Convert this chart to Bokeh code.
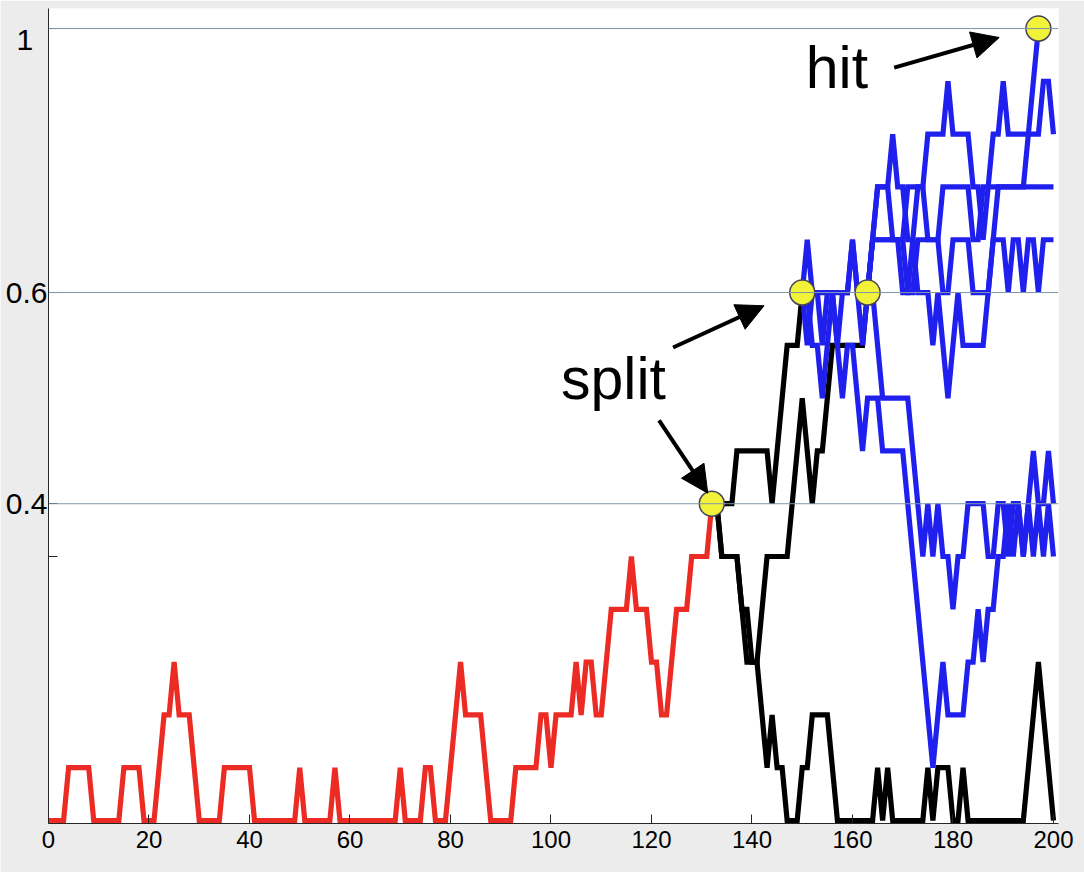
from bokeh.plotting import figure
from bokeh.models import (Range1d, FixedTicker, Label, Arrow, NormalHead, Span)
from bokeh.embed import file_html
from bokeh.resources import INLINE

# ---------------- data (levels on a 0..15 step scale) ----------------
red_start = 0
red = [0,0,0,0,1,1,1,1,1,0,0,0,0,0,0,1,1,1,1,0,
       0,0,1,2,2,3,2,2,2,1,0,0,0,0,0,1,1,1,1,1,
       1,0,0,0,0,0,0,0,0,0,1,0,0,0,0,0,0,1,0,0,
       0,0,0,0,0,0,0,0,0,0,1,0,0,0,0,1,1,0,0,0,
       1,2,3,2,2,2,2,1,0,0,0,0,0,1,1,1,1,1,2,2,
       1,2,2,2,2,3,2,3,3,2,2,3,4,4,4,4,5,4,4,4,
       3,3,2,2,3,4,4,4,5,5,5,5,6]

black_start = 132
black_a = [6,6,6,6,6,7,7,7,7,7,7,7,6,7,8,9,9,9,10]           # t132..150
black_b = [6,6,5,5,5,5,4,4,3,3,4,5,5,5,5,5,6,7,8,7,6,7,7,8,9,
           9,9,9,9,9,9,10]                                     # t132..163
black_d = [6,6,5,5,5,5,4,3,3,3,2,1,2,1,1,0,0,0,1,1,2,2,2,2,1,
           0,0,0,0,0,0,0,0,1,0,1,0,0,0,0,0,0,0,1,0,1,1,1,0,0,
           1,0,0,0,0,0,0,0,0,0,0,0,0,1,2,3,2,1,0]             # t132..200

blue2_start = 150
blue_q1 = [10,10,9,9,8,9,10,9,8,9,
           9,8,7,8,8,8,7,7,7,7,
           7,6,5,4,3,2,1,2,3,2,
           2,2,2,3,3,4,3,4,4,5,
           5,6,5,6,5,6,5,6,5,6,
           5]
blue_t13 = [10,11,10,10,10,10,10,10,10,10,
            11,10,10,10,11,11,11,11,11,11,
            11,12,12,12,12,13,13,13,13,14,
            13,13,13,13,12,12,11,12,13,13,
            14,13,13,13,13,13,13,13,14,14,
            13]
blue_t11 = [10,9,10,10,9,10,10,9,10,10,
            11,10,9,10,11,12,12,12,11,11,
            10,10,11,10,10,10,9,10,9,8,
            9,10,9,9,9,9,9,10,11,11,
            11,10,11,11,10,11,11,10,11,11,
            11]

blue3_start = 163
blue_hit = [10,11,12,12,12,13,12,12,11,11,
            12,12,11,11,11,12,12,12,12,12,
            12,11,11,12,12,12,12,12,12,12,
            12,12,13,14,15]
blue_t12 = [10,11,11,11,11,11,11,11,10,10,
            11,11,11,11,11,10,10,11,11,11,
            11,10,10,10,10,11,12,12,12,12,
            12,12,12,12,12,12,12,12]
blue_b2 = [10,10,9,8,8,8,8,8,8,7,
           6,5,6,5,6,5,5,4,5,5,
           6,6,6,6,5,5,6,6,5,6,
           6,5,6,7,6,6,7,6]

splits_t = [132, 150, 163, 197]
splits_lvl = [6, 10, 10, 15]

x_ticks = [0, 20, 40, 60, 80, 100, 120, 140, 160, 180, 200]
y_ticks = [5, 6, 10, 15]
# the "1" label sits a line below its tick; trailing spaces centre it
y_tick_labels = {5: "", 6: "0.4", 10: "0.6", 15: "\u00a0\n1\u00a0\u2009"}

# ---------------- figure ----------------
GRAY = "#ececec"
p = figure(width=1084, height=872, output_backend="svg", toolbar_location=None,
           x_range=Range1d(0, 201.0), y_range=Range1d(-0.057, 15.38),
           min_border_left=48, min_border_right=26, min_border_top=8,
           min_border_bottom=49)
p.background_fill_color = "white"
p.border_fill_color = GRAY
p.outline_line_color = None
p.grid.visible = False

axis_col = "#262626"
for ax in (p.xaxis[0], p.yaxis[0]):
    ax.axis_line_color = axis_col
    ax.major_tick_line_color = axis_col
    ax.major_tick_in = 9
    ax.major_tick_out = 0
    ax.minor_tick_line_color = None
    ax.major_label_text_color = "black"

p.xaxis.ticker = FixedTicker(ticks=x_ticks)
p.xaxis.major_label_text_font = "Liberation Sans"
p.xaxis.major_label_text_font_size = "24px"
p.xaxis.major_label_standoff = 7

p.yaxis.ticker = FixedTicker(ticks=y_ticks)
p.yaxis.major_label_overrides = {k: v for k, v in y_tick_labels.items()}
p.yaxis.major_label_text_font = "Liberation Sans"
p.yaxis.major_label_text_font_size = "30px"
p.yaxis.major_label_text_line_height = 0.65
p.yaxis.major_label_standoff = 1

# horizontal guide lines
for lv in (6, 10, 15):
    p.add_layout(Span(location=lv, dimension="width", line_color="#8196aa",
                      line_width=1))

def xs(start, vals):
    return list(range(start, start + len(vals)))

LW = 5.2
RED = "#ec2b24"
BLUE = "#2020ee"
p.line(xs(red_start, red), red, line_color=RED, line_width=LW, line_join="miter")
for b in (black_a, black_b, black_d):
    p.line(xs(black_start, b), b, line_color="black", line_width=LW, line_join="miter")
for b in (blue_q1, blue_t13, blue_t11):
    p.line(xs(blue2_start, b), b, line_color=BLUE, line_width=LW, line_join="miter")
for b in (blue_hit, blue_t12, blue_b2):
    p.line(xs(blue3_start, b), b, line_color=BLUE, line_width=LW, line_join="miter")

p.scatter(splits_t, splits_lvl, size=25, fill_color="#f2f23a",
          line_color="#45455a", line_width=1.5)

# annotations
head = dict(size=27, fill_color="black", line_color="black")
p.add_layout(Arrow(end=NormalHead(**head), x_start=124.3, y_start=8.96,
                   x_end=142.4, y_end=9.75, line_width=4, line_color="black"))
p.add_layout(Arrow(end=NormalHead(**head), x_start=121.5, y_start=7.58,
                   x_end=131.2, y_end=6.2, line_width=4, line_color="black"))
p.add_layout(Arrow(end=NormalHead(**head), x_start=168.3, y_start=14.26,
                   x_end=189.2, y_end=14.83, line_width=4, line_color="black"))
p.add_layout(Label(x=102.0, y=8.37, text="split", text_font="Liberation Sans",
                   text_font_size="59px", text_color="black",
                   text_baseline="alphabetic"))
p.add_layout(Label(x=150.7, y=14.26, text="hit", text_font="Liberation Sans",
                   text_font_size="59px", text_color="black",
                   text_baseline="alphabetic"))

open("out.html", "w").write(file_html(p, INLINE))
